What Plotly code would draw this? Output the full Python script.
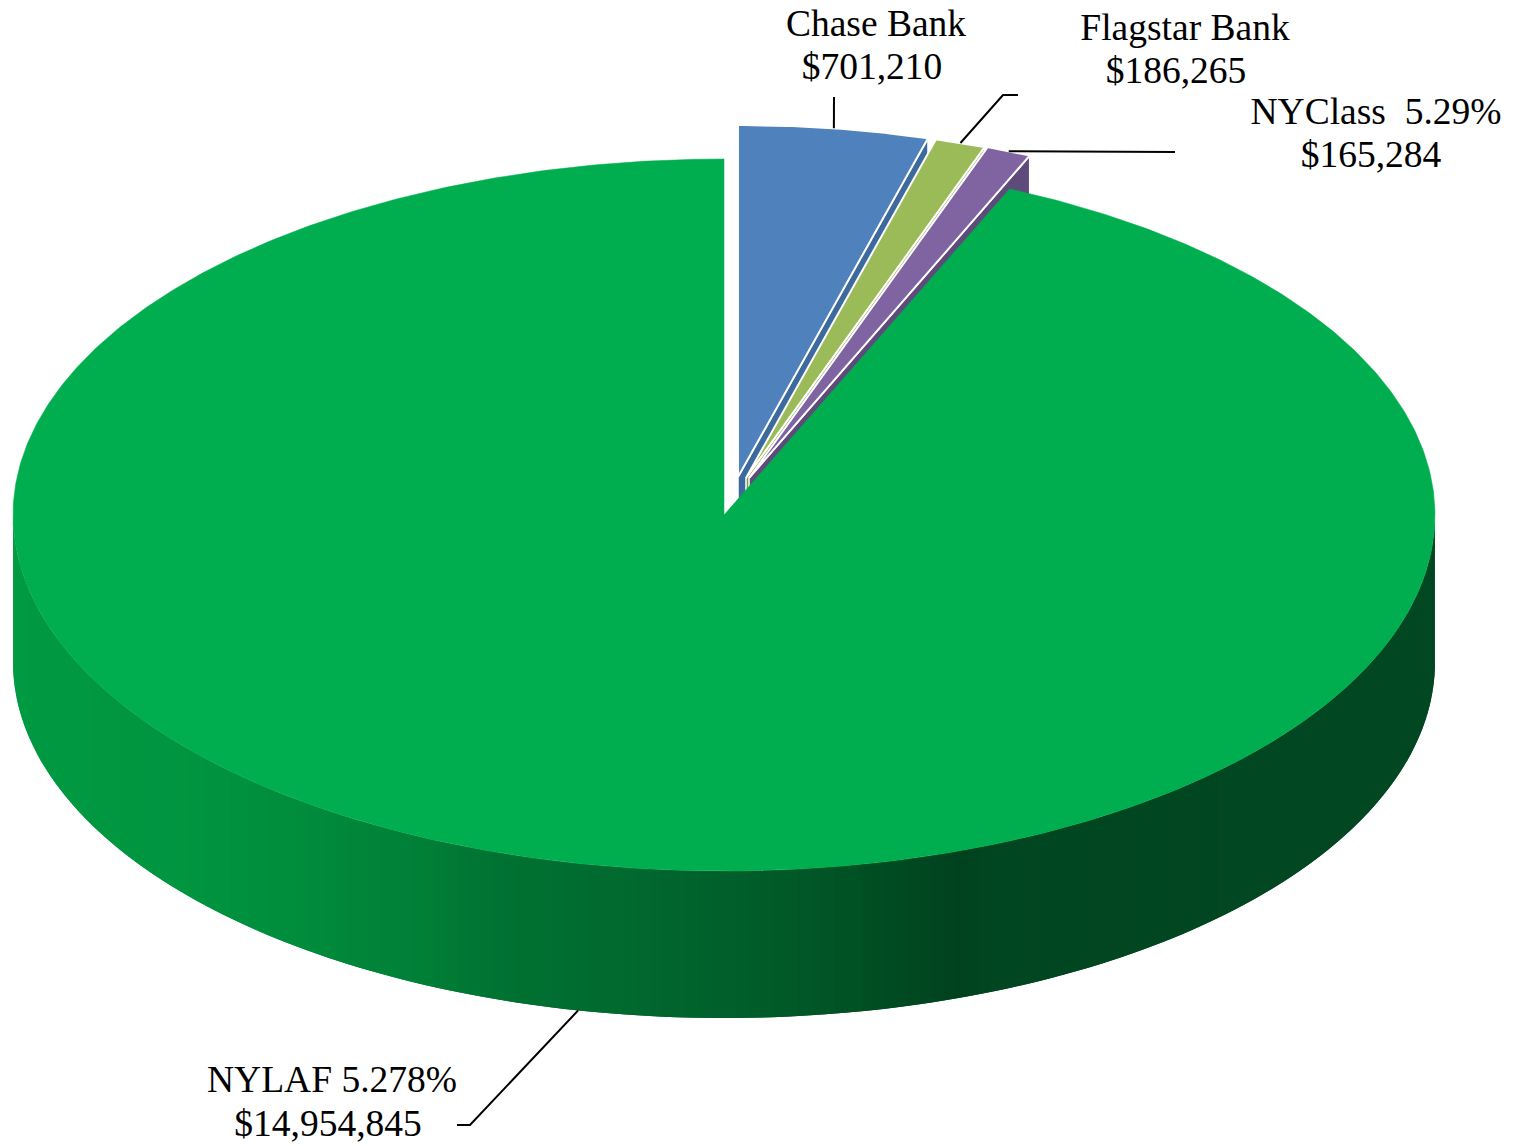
import numpy as np
import plotly.graph_objects as go

# ---- data ----
names = ["Chase Bank", "Flagstar Bank", "NYClass", "NYLAF"]
values = [701210, 186265, 165284, 14954845]
label_line1 = ["Chase Bank", "Flagstar Bank", "NYClass\u00a0\u00a05.29%", "NYLAF 5.278%"]
label_line2 = ["$701,210", "$186,265", "$165,284", "$14,954,845"]

# ---- styling and projection ----
W, H = 1515, 1146
TOP_COL = ["#4f81bd", "#9bbb59", "#8064a2", "#00ae4f"]
CUT_COL = ["#3d6a9e", "#7c9a45", "#5f4b7b", "#00ae4f"]
RX = [699, 699, 699, 711]
RY = [352, 352, 352, 356]
APEX = [(738, 477), (746, 478), (749, 478), (724, 515)]
DEPTH = 147
GRAD_X = [13, 200, 300, 420, 500, 640, 800, 900, 958, 1000, 1435]
GRAD_G = [154, 148, 140, 127, 114, 104, 88, 74, 66, 70, 71]
GRAD_B = [66, 63, 60, 55, 50, 46, 39, 33, 30, 33, 34]
LABEL_X1 = [876, 1185, 1376, 332]
LABEL_X2 = [872, 1176, 1371, 328]
LABEL_Y1 = [27, 31, 115, 1083]
LABEL_Y2 = [70, 74, 158, 1127]
LEADER_MID_X = [[834], [1003, 1018], [1175], [470, 457]]
LEADER_MID_Y = [[97], [95, 95], [152], [1125, 1125]]

shares = np.array(values) / sum(values) * 360.0
edges = np.concatenate([[0], np.cumsum(shares)])


def pt(i, deg, drop=0.0):
    a = np.radians(deg)
    return (APEX[i][0] + RX[i] * np.sin(a), APEX[i][1] - RY[i] * np.cos(a) + drop)


fig = go.Figure()


def poly(xs, ys, fill, line=None, width=0):
    fig.add_trace(go.Scatter(
        x=list(xs), y=list(ys), mode="lines", fill="toself", fillcolor=fill,
        line=dict(color=line or fill, width=width), hoverinfo="skip", showlegend=False))


# outer wall of the large slice, shaded left to right; each strip overlaps
# the next one so that no seams show
i = 3
for d0 in np.arange(90, 270, 1.0):
    seg = np.linspace(d0, min(d0 + 2.0, 270), 5)
    px, py = pt(i, seg)
    xm = float(np.mean(pt(i, np.array([d0, d0 + 1.0]))[0]))
    g = np.interp(xm, GRAD_X, GRAD_G)
    b = np.interp(xm, GRAD_X, GRAD_B)
    poly(np.r_[px, px[::-1]], np.r_[py, py[::-1] + DEPTH], f"rgb(0,{g:.0f},{b:.0f})")

# small slices, back to front: cut face first, then top with white outline
for i in range(3):
    ax, ay = APEX[i]
    ex, ey = pt(i, edges[i + 1])
    poly([ax, ex, ex, ax, ax], [ay, ey, ey + DEPTH, ay + DEPTH, ay], CUT_COL[i], "white", 1.5)
    arc = np.linspace(edges[i], edges[i + 1], 40)
    px, py = pt(i, arc)
    poly(np.r_[ax, px, ax], np.r_[ay, py, ay], TOP_COL[i], "white", 2)

# top of the large slice
i = 3
ax, ay = APEX[i]
arc = np.linspace(edges[i], edges[i + 1], 720)
px, py = pt(i, arc)
poly(np.r_[ax, px, ax], np.r_[ay, py, ay], TOP_COL[i], TOP_COL[i], 0.5)

# leader lines start at each slice's mid-angle on its rim
for i in range(4):
    mid = (edges[i] + edges[i + 1]) / 2
    sx, sy = pt(i, mid, DEPTH if i == 3 else 0)
    fig.add_trace(go.Scatter(
        x=[sx] + LEADER_MID_X[i], y=[sy] + LEADER_MID_Y[i], mode="lines",
        line=dict(color="black", width=2), hoverinfo="skip", showlegend=False))

font = dict(family="Liberation Serif", size=37.5, color="black")
fig.add_trace(go.Scatter(x=LABEL_X1, y=LABEL_Y1, text=label_line1, mode="text",
                         textfont=font, textposition="middle center",
                         hoverinfo="skip", showlegend=False))
fig.add_trace(go.Scatter(x=LABEL_X2, y=LABEL_Y2, text=label_line2, mode="text",
                         textfont=font, textposition="middle center",
                         hoverinfo="skip", showlegend=False))

fig.update_layout(
    width=W, height=H, margin=dict(l=0, r=0, t=0, b=0),
    paper_bgcolor="white", plot_bgcolor="white", showlegend=False,
    xaxis=dict(range=[0, W], visible=False, fixedrange=True),
    yaxis=dict(range=[H, 0], visible=False, fixedrange=True),
)
fig.write_html("out.html", config=dict(displayModeBar=False),
               post_script="document.body.style.margin='0';document.body.style.overflow='hidden';")
